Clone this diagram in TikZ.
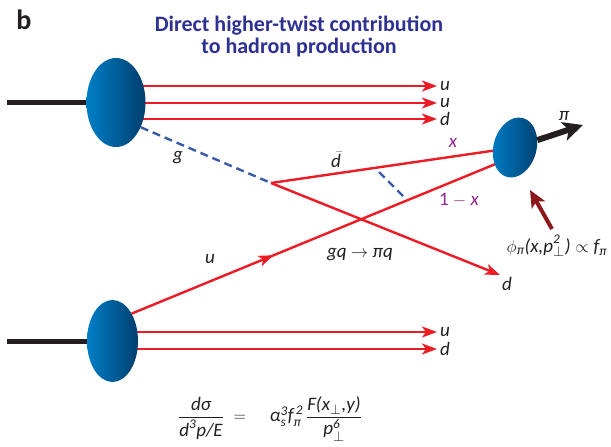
\documentclass[tikz,border=0pt]{standalone}
\usepackage{amsmath}
\usepackage{fontspec}
\setsansfont{Carlito}
\usepackage{tikz}
\usetikzlibrary{arrows.meta,shapes.geometric,decorations.markings}

\definecolor{titleblue}{RGB}{46,49,146}
\definecolor{quarkred}{RGB}{237,28,36}
\definecolor{gluonblue}{RGB}{59,89,169}
\definecolor{fracpurple}{RGB}{146,39,143}
\definecolor{wfred}{RGB}{140,24,30}
\definecolor{blobL}{RGB}{0,126,198}
\definecolor{blobR}{RGB}{0,62,110}
\definecolor{ink}{RGB}{35,31,32}

\tikzset{
  blob/.style={ellipse,inner sep=0pt,draw=none,left color=blobL,right color=blobR},
  beam/.style={draw=ink,line width=5pt},
  quarkline/.style={draw=quarkred,color=quarkred,line width=2.4pt},
  quark/.style={quarkline,-{Stealth[length=15pt,width=11pt,inset=4pt]}},
  midarrow/.style={postaction={decorate},decoration={markings,
      mark=at position #1 with {\arrow{Stealth[length=15pt,width=11pt,inset=4pt]}}}},
  gluon/.style={draw=gluonblue,line width=2.4pt,dash pattern=on 8pt off 5pt},
  lbl/.style={text=ink,font=\sffamily\itshape\fontsize{19}{21}\selectfont,inner sep=2pt},
  frac/.style={lbl,text=fracpurple},
}

\begin{document}
\begin{tikzpicture}[x=1pt,y=-1pt,>=Stealth]
\useasboundingbox (0,0) rectangle (611,447);
\node[text=ink,font=\sffamily\bfseries\fontsize{28}{28}\selectfont] (panel) at (24,20) {b};
\node[text=titleblue,font=\sffamily\bfseries\fontsize{22}{22}\selectfont,align=center]
  (title) at (299,36) {Direct higher-twist contribution\\to hadron production};

\coordinate (hA) at (116,102.5);
\coordinate (hB) at (112.5,341);
\coordinate (hP) at (515,147.5);
\coordinate (uA1) at (437,86);
\coordinate (uA2) at (437,103);
\coordinate (dA) at (437,119);
\coordinate (uB) at (437,332);
\coordinate (dB) at (437,349);
\coordinate (vtx) at (271,183);
\coordinate (dOut) at (500,275);
\coordinate (qIn) at (515,156);
\coordinate (cutA) at (379,172);
\coordinate (cutB) at (405,198);
\coordinate (piTip) at (583,125);
\coordinate (wfTail) at (552,229);
\coordinate (wfTip) at (530,190);
\coordinate (inA) at (7,102.5);
\coordinate (inB) at (7,341);

% spectators
\draw[quark] (hA |- uA1) -- (uA1) node[lbl,right] (luA1) {u};
\draw[quark] (hA |- uA2) -- (uA2) node[lbl,right] (luA2) {u};
\draw[quark] (hA |- dA) -- (dA) node[lbl,right] (ldA) {d};
\draw[quark] (hB |- uB) -- (uB) node[lbl,right] (luB) {u};
\draw[quark] (hB |- dB) -- (dB) node[lbl,right] (ldB) {d};
% hard part
\draw[quarkline] (vtx) -- (hP);
\draw[quark] (vtx) -- (dOut) node[lbl,below right,inner sep=1pt] (ldOut) {d};

\node[blob,minimum width=59pt,minimum height=89pt] (A) at (hA) {};
\node[blob,minimum width=51pt,minimum height=82pt] (B) at (hB) {};
\draw[beam] (inA) -- (A.west);
\draw[beam] (inB) -- (B.west);
\draw[gluon] (A.-45) -- (vtx);
\draw[quarkline,midarrow=0.37] (B.55) -- (qIn);

\node[blob,rotate=-15,minimum width=43pt,minimum height=61pt] (P) at (hP) {};
\draw[draw=ink,line width=6pt,-{Stealth[length=20pt,width=19pt,inset=5pt]}] (P) -- (piTip);
\draw[gluon] (cutA) -- (cutB);
\draw[draw=wfred,line width=4pt,-{Stealth[length=17pt,width=15pt,inset=4pt]}] (wfTail) -- (wfTip);

% labels
\node[lbl] (lg) at (178,158) {g};
\node[lbl] (ldbar) at (336,160) {$\skew{7}{\bar}{\text{d}}$};
\node[frac] (lx) at (453,143) {x};
\node[frac] (l1x) at (459,200) {\upshape 1 \itshape$-$ x};
\node[lbl] (lu) at (210,259) {u};
\node[lbl] (lproc) at (360,255) {gq $\rightarrow$ πq};
\node[lbl] (lpi) at (564,116) {π};
\node[lbl] (lphi) at (557,246) {$\phi_{\text{π}}\text{(x,p}^{\text{2}}_{\perp}\text{)}\propto\text{f}_{\text{π}}$};
\node[lbl,font=\sffamily\itshape\fontsize{19}{21}\selectfont] (xsec) at (270,419)
  {$\dfrac{\text{dσ}}{\text{d}^{\text{3}}\text{p/E}} \;=\;\;\;\;
    \text{α}^{\text{3}}_{\text{s}}\text{f}^{\text{\,2}}_{\text{π}}\,
    \dfrac{\text{F(x}_{\perp}\text{,y)}}{\text{p}^{\text{6}}_{\perp}}$};
\end{tikzpicture}
\end{document}
